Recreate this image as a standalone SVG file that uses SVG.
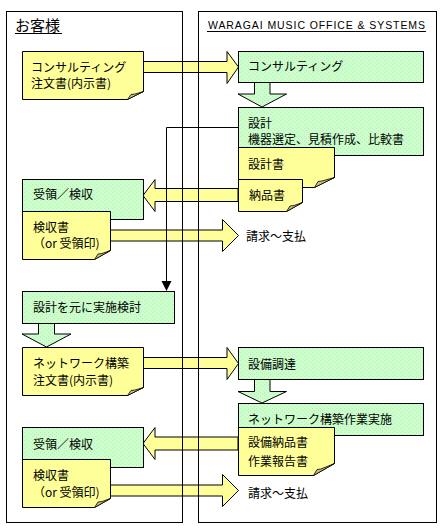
<svg xmlns="http://www.w3.org/2000/svg" width="448" height="532" viewBox="0 0 448 532">
<style>
.panel{fill:none;stroke:#000;stroke-width:1}
.box{fill:url(#gp);stroke:#000;stroke-width:1}
.doc{fill:#FFFF99;stroke:#000;stroke-width:1}
.curl{fill:#C8C080;stroke:#000;stroke-width:0.8}
.ya{fill:#FFFF99;stroke:#000;stroke-width:1}
.ga{fill:url(#gp);stroke:#000;stroke-width:1}
.conn{fill:none;stroke:#000;stroke-width:1}
text{font-family:"Noto Sans CJK JP","Noto Sans",sans-serif;font-size:12px;fill:#000}
.title{font-size:15px}
.en{font-family:"Liberation Sans","DejaVu Sans",sans-serif;font-size:10.5px}
</style>
<defs>
<pattern id="gp" width="4" height="4" patternUnits="userSpaceOnUse">
<rect width="4" height="4" fill="#CCFFCC"/>
<rect x="0" y="0" width="1" height="1" fill="#B8EEB8"/>
<rect x="2" y="2" width="1" height="1" fill="#B8EEB8"/>
</pattern>
</defs>
<rect x="0" y="0" width="448" height="532" fill="#fff"/>

<g id="connectors">
<path class="ya" d="M143,61.5 H227 V51.5 L238.5,67 L227,83.5 V72.5 H143 Z"/>
<path class="ga" d="M254.5,82 V94 H238 L262,107 L286.5,94 H270 V82 Z"/>
<path class="ya" d="M238,188.5 H155 V179.5 L143,195.5 L155,211.5 V201.5 H238 Z"/>
<path class="ya" d="M110,230 H222.5 V219.5 L238.5,235.5 L222.5,251.5 V241 H110 Z"/>
<path class="ga" d="M38.5,323 V334 H22 L46.5,347 L71,334 H54.5 V323 Z"/>
<path class="ya" d="M143,357.5 H227 V347.5 L238.5,363.5 L227,379.5 V368.5 H143 Z"/>
<path class="ga" d="M254.5,379 V391.5 H238 L262,403 L286.5,391.5 H270 V379 Z"/>
<path class="ya" d="M238,437 H155 V427.5 L143,443.5 L155,459.5 V450 H238 Z"/>
<path class="ya" d="M110,485 H222.5 V474.5 L238.5,490.5 L222.5,506.5 V496 H110 Z"/>
<polyline class="conn" points="238,127.5 166.5,127.5 166.5,282"/>
<polygon points="161.5,281 171.5,281 166.5,291" fill="#000"/>
</g>

<g id="lane-customer">
<rect class="panel" x="6.5" y="11.5" width="176" height="511"/>
<text class="title" x="15" y="31">お客様</text>
<line x1="15" y1="33.5" x2="62" y2="33.5" stroke="#000"/>
</g>
<g id="lane-waragai">
<rect class="panel" x="198.5" y="11.5" width="238" height="511"/>
<text class="en" x="208" y="29" textLength="217" lengthAdjust="spacing">WARAGAI MUSIC OFFICE &amp; SYSTEMS</text>
<line x1="207" y1="31.5" x2="426" y2="31.5" stroke="#000"/>
</g>

<g id="doc-consult-order">
<path class="doc" d="M22.5,51.5 H143.5 V91.5 L127.5,99.5 H22.5 Z"/>
<path class="curl" d="M127.5,99.5 L131,94.5 L135,94 L143.5,91.5 Z"/>
<text x="31" y="71.5">コンサルティング</text>
<text x="31" y="88">注文書(内示書)</text>
</g>

<g id="box-consulting">
<rect class="box" x="238.5" y="51.5" width="185" height="31"/>
<text x="248" y="71">コンサルティング</text>
</g>

<g id="box-design">
<rect class="box" x="238.5" y="107.5" width="185" height="48"/>
<text x="248" y="128">設計</text>
<text x="248" y="144">機器選定、見積作成、比較書</text>
</g>

<g id="doc-design">
<path class="doc" d="M238.5,147.5 H334.5 V177.5 L314.5,187.5 H238.5 Z"/>
<path class="curl" d="M314.5,187.5 L318,181.5 L322,181 L334.5,177.5 Z"/>
<text x="248" y="169">設計書</text>
</g>

<g id="doc-delivery">
<path class="doc" d="M238.5,179.5 H302.5 V202.5 L286.5,211.5 H238.5 Z"/>
<path class="curl" d="M286.5,211.5 L290,206 L294,205.5 L302.5,202.5 Z"/>
<text x="249" y="199.5">納品書</text>
</g>

<g id="box-accept1">
<rect class="box" x="22.5" y="179.5" width="121" height="40"/>
<text x="33" y="199">受領／検収</text>
</g>

<g id="doc-inspect1">
<path class="doc" d="M22.5,211.5 H110.5 V250.5 L94.5,259.5 H22.5 Z"/>
<path class="curl" d="M94.5,259.5 L98,254 L102,253.5 L110.5,250.5 Z"/>
<text x="33" y="231.5">検収書</text>
<text x="33" y="248">（or 受領印)</text>
</g>

<g id="label-pay1">
<text x="246" y="241">請求～支払</text>
</g>

<g id="box-plan">
<rect class="box" x="22.5" y="291.5" width="152" height="32"/>
<text x="33" y="312">設計を元に実施検討</text>
</g>

<g id="doc-network-order">
<path class="doc" d="M22.5,347.5 H143.5 V387.5 L127.5,395.5 H22.5 Z"/>
<path class="curl" d="M127.5,395.5 L131,390.5 L135,390 L143.5,387.5 Z"/>
<text x="33" y="368">ネットワーク構築</text>
<text x="33" y="384.5">注文書(内示書)</text>
</g>

<g id="box-procure">
<rect class="box" x="238.5" y="347.5" width="185" height="32"/>
<text x="248" y="369">設備調達</text>
</g>

<g id="box-build">
<rect class="box" x="238.5" y="403.5" width="185" height="32"/>
<text x="248" y="424">ネットワーク構築作業実施</text>
</g>

<g id="doc-equip">
<path class="doc" d="M238.5,427.5 H334.5 V463.5 L313.5,475.5 H238.5 Z"/>
<path class="curl" d="M313.5,475.5 L317,469.5 L321,469 L334.5,463.5 Z"/>
<text x="248" y="447">設備納品書</text>
<text x="248" y="465.5">作業報告書</text>
</g>

<g id="box-accept2">
<rect class="box" x="22.5" y="427.5" width="121" height="40"/>
<text x="33" y="448.5">受領／検収</text>
</g>

<g id="doc-inspect2">
<path class="doc" d="M22.5,459.5 H110.5 V498.5 L94.5,507.5 H22.5 Z"/>
<path class="curl" d="M94.5,507.5 L98,502 L102,501.5 L110.5,498.5 Z"/>
<text x="33" y="480">検収書</text>
<text x="33" y="496.5">（or 受領印)</text>
</g>

<g id="label-pay2">
<text x="248" y="498">請求～支払</text>
</g>
</svg>
